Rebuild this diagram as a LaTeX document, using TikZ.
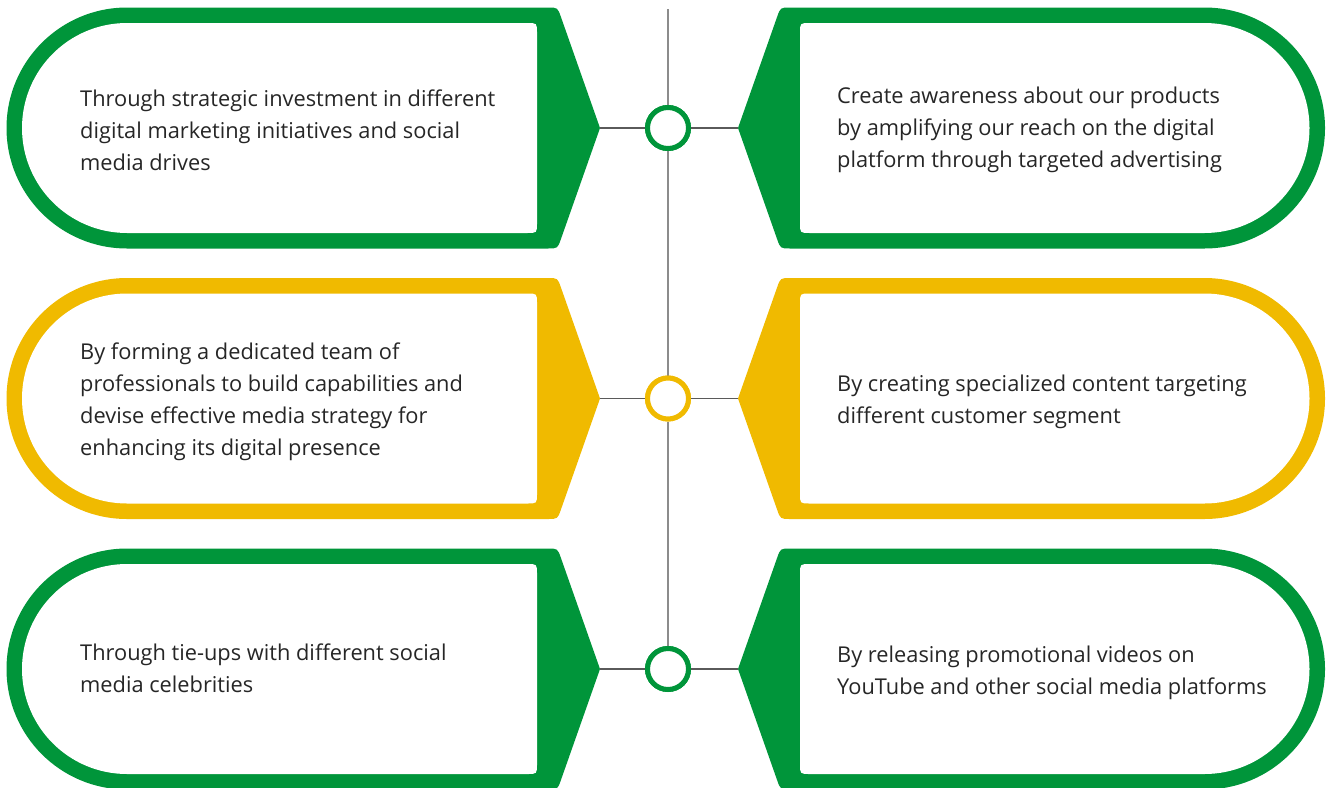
\documentclass[tikz,border=0pt]{standalone}
\usepackage{fontspec}
\setmainfont{Open Sans}
\definecolor{bgreen}{HTML}{00953A}
\definecolor{byellow}{HTML}{F0BA00}
\definecolor{txt}{HTML}{262626}
\definecolor{vline}{HTML}{8C8C8C}
\definecolor{hline}{HTML}{5A5A5A}
\newcommand\leftouter{(127,-120.5) arc[start angle=270,end angle=90,radius=120.5] -- (547.6,120.5) .. controls (557.6,120.5) .. (560.9,111.1) -- (600,0) -- (560.9,-111.1) .. controls (557.6,-120.5) .. (547.6,-120.5) -- cycle}
\newcommand\leftinner{(127,-105) arc[start angle=270,end angle=90,radius=105] -- (527,105) .. controls (537,105) .. (537,95) -- (537,-95) .. controls (537,-105) .. (527,-105) -- cycle}
\newcommand\rightouter{(790.4,-120.5) -- (1204.5,-120.5) arc[start angle=-90,end angle=90,radius=120.5] -- (790.4,120.5) .. controls (780.4,120.5) .. (777.1,111.1) -- (738,0) -- (777.1,-111.1) .. controls (780.4,-120.5) .. (790.4,-120.5) -- cycle}
\newcommand\rightinner{(810,-105) -- (1204.5,-105) arc[start angle=-90,end angle=90,radius=105] -- (810,105) .. controls (800,105) .. (800,95) -- (800,-95) .. controls (800,-105) .. (810,-105) -- cycle}
\tikzset{
  ring/.style={circle,draw=#1,line width=5pt,fill=white,minimum size=41pt,inner sep=0pt},
  label text/.style={anchor=west,align=left,text=txt,font=\fontsize{21.8}{32}\selectfont,inner sep=0pt},
  spine/.style={draw=vline,line width=1.6pt},
  link/.style={draw=hline,line width=1.3pt}
}
\begin{document}
\begin{tikzpicture}[x=1pt,y=-1pt]
\useasboundingbox (0,0) rectangle (1332,787);
\begin{scope}
  \clip (0,0) rectangle (1332,787);
  \foreach \cy/\col in {128/bgreen,398.5/byellow,669/bgreen}{
    \begin{scope}[shift={(0,\cy)}]
      \fill[\col] \leftouter;
      \fill[white] \leftinner;
      \fill[\col] \rightouter;
      \fill[white] \rightinner;
    \end{scope}
  }
\end{scope}
% spine and connectors
\coordinate (top) at (668,9);
\coordinate (L1) at (600,128);
\coordinate (R1) at (738,128);
\coordinate (L2) at (600,398.5);
\coordinate (R2) at (738,398.5);
\coordinate (L3) at (600,669);
\coordinate (R3) at (738,669);
\node[ring=bgreen] (c1) at (668,128) {};
\node[ring=byellow] (c2) at (668,398.5) {};
\node[ring=bgreen] (c3) at (668,669) {};
\path[spine] (top) -- (c1);
\path[spine] (c1) -- (c2);
\path[spine] (c2) -- (c3);
\path[link] (L1) -- (c1); \path[link] (c1) -- (R1);
\path[link] (L2) -- (c2); \path[link] (c2) -- (R2);
\path[link] (L3) -- (c3); \path[link] (c3) -- (R3);
\node[ring=bgreen] at (c1) {};
\node[ring=byellow] at (c2) {};
\node[ring=bgreen] at (c3) {};
% texts
\node[label text] (t1) at (80,130) {Through strategic investment in different\\digital marketing initiatives and social\\media drives};
\node[label text] (t2) at (80,402) {By forming a dedicated team of\\professionals to build capabilities and\\devise effective media strategy for\\enhancing its digital presence};
\node[label text] (t3) at (80,668) {Through tie-ups with different social\\media celebrities};
\node[label text] (t4) at (837,130) {Create awareness about our products\\by amplifying our reach on the digital\\platform through targeted advertising};
\node[label text] (t5) at (837,402) {By creating specialized content targeting\\different customer segment};
\node[label text] (t6) at (837,673) {By releasing promotional videos on\\YouTube and other social media platforms};
\end{tikzpicture}
\end{document}
